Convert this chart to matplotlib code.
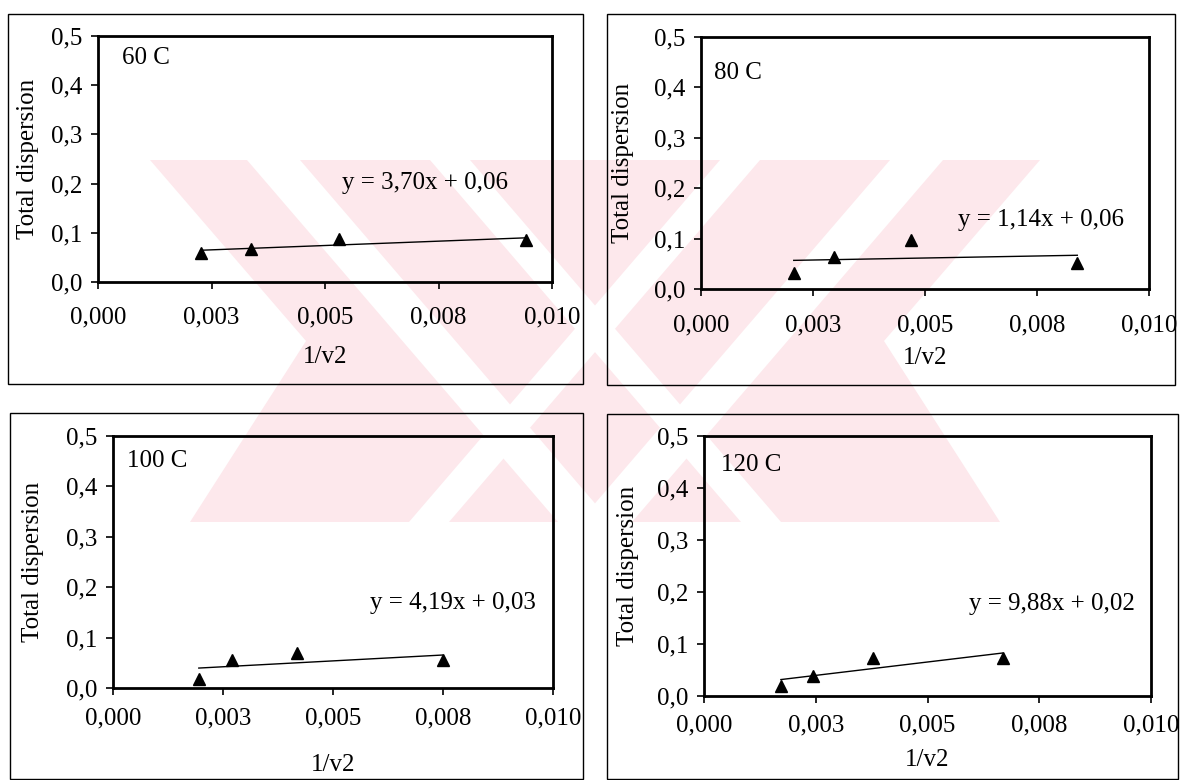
import numpy as np
import matplotlib
matplotlib.use("Agg")
import matplotlib.pyplot as plt
from matplotlib.patches import Rectangle, Polygon

plt.rcParams['font.family'] = ['Liberation Serif', 'DejaVu Serif']

# data (x = 1/v2, y = total dispersion)
x60 = [0.00227, 0.00338, 0.00530, 0.00942]
y60 = [0.059, 0.067, 0.087, 0.085]
x80 = [0.00207, 0.00297, 0.00468, 0.00840]
y80 = [0.031, 0.063, 0.098, 0.051]
x100 = [0.00195, 0.00270, 0.00418, 0.00749]
y100 = [0.017, 0.056, 0.069, 0.056]
x120 = [0.00172, 0.00243, 0.00378, 0.00668]
y120 = [0.020, 0.038, 0.074, 0.074]

temps = ["60 C", "80 C", "100 C", "120 C"]
equations = ["y = 3,70x + 0,06", "y = 1,14x + 0,06", "y = 4,19x + 0,03", "y = 9,88x + 0,02"]
eq_pos = [(0.00538, 0.201), (0.00573, 0.137), (0.00584, 0.169), (0.00592, 0.176)]

xticks = [0, 0.0025, 0.005, 0.0075, 0.01]
xticklabels = ["0,000", "0,003", "0,005", "0,008", "0,010"]
yticks = [0, 0.1, 0.2, 0.3, 0.4, 0.5]
yticklabels = ["0,0", "0,1", "0,2", "0,3", "0,4", "0,5"]

W, H = 1182, 780
fig = plt.figure(figsize=(W / 100, H / 100), dpi=100)

# pale watermark behind the charts (pixel coords)
bg = fig.add_axes([0, 0, 1, 1], zorder=-5)
bg.set_xlim(0, W)
bg.set_ylim(H, 0)
bg.axis("off")
pink = "#fde8ec"
clip = Rectangle((140, 160), 1030, 362, transform=bg.transData)
wm_pink = [
    [(150, 160), (1040, 160), (884, 341), (1000, 522), (190, 522), (306, 341)],
]
wm_white = [
    [(247, 160), (300, 160), (611, 522), (558, 522)],
    [(890, 160), (943, 160), (632, 522), (579, 522)],
    [(430, 160), (470, 160), (781, 522), (741, 522)],
    [(720, 160), (760, 160), (449, 522), (409, 522)],
]
for poly in wm_pink:
    p = bg.add_patch(Polygon(poly, closed=True, fc=pink, ec="none"))
    p.set_clip_path(clip)
for poly in wm_white:
    p = bg.add_patch(Polygon(poly, closed=True, fc="white", ec="none"))
    p.set_clip_path(clip)

# panel frames and axes boxes, pixel coords (left, top, right, bottom)
frames = [(8, 14, 583, 384), (607, 14, 1175, 385), (10, 413, 583, 779), (607, 414, 1178, 779)]
boxes = [(98, 36, 552, 282), (701, 37, 1149, 289), (113, 436, 553, 688), (704, 436, 1151, 696)]
tick_gap = [35, 36, 30, 29]
xlab_gap = [75, 69, 77, 64]
ylab_x = [28, 623, 33, 628]
tag_pos = [(0.053, 0.91), (0.03, 0.856), (0.032, 0.90), (0.038, 0.89)]

data = [(x60, y60), (x80, y80), (x100, y100), (x120, y120)]

for i in range(4):
    l, t, r, b = frames[i]
    fig.patches.append(Rectangle((l / W, 1 - b / H), (r - l) / W, (b - t) / H,
                                 transform=fig.transFigure, fill=False, ec="black", lw=1.0))
    l, t, r, b = boxes[i]
    ax = fig.add_axes([l / W, 1 - b / H, (r - l) / W, (b - t) / H])
    ax.patch.set_alpha(0)
    xs, ys = data[i]
    ax.plot(xs, ys, "^", color="black", markersize=9, clip_on=False)
    k, c = np.polyfit(xs, ys, 1)
    xl = np.array([min(xs), max(xs)])
    ax.plot(xl, k * xl + c, color="black", lw=1.0)
    ax.set_xlim(0, 0.01)
    ax.set_ylim(0, 0.5)
    ax.set_xticks(xticks)
    ax.set_xticklabels(xticklabels)
    ax.set_yticks(yticks)
    ax.set_yticklabels(yticklabels)
    ax.tick_params(direction="out", length=5, width=1.2, labelsize=18)
    ax.tick_params(axis="x", pad=(tick_gap[i] - 5 - 12) * 0.72)
    ax.tick_params(axis="y", pad=6)
    for s in ax.spines.values():
        s.set_linewidth(2.0)
    ax.text(tag_pos[i][0], tag_pos[i][1], temps[i], transform=ax.transAxes,
            fontsize=18, va="center", ha="left")
    ax.text(eq_pos[i][0], eq_pos[i][1], equations[i], fontsize=18, va="center", ha="left")
    ax.set_xlabel("1/v2", fontsize=18)
    ax.xaxis.set_label_coords(0.5, -xlab_gap[i] / (b - t))
    ax.xaxis.label.set_va("center")
    ax.set_ylabel("Total dispersion", fontsize=18)
    ax.yaxis.set_label_coords(-(l - ylab_x[i]) / (r - l), 0.5)
    ax.yaxis.label.set_va("center")

fig.savefig("out.png", dpi=100)
